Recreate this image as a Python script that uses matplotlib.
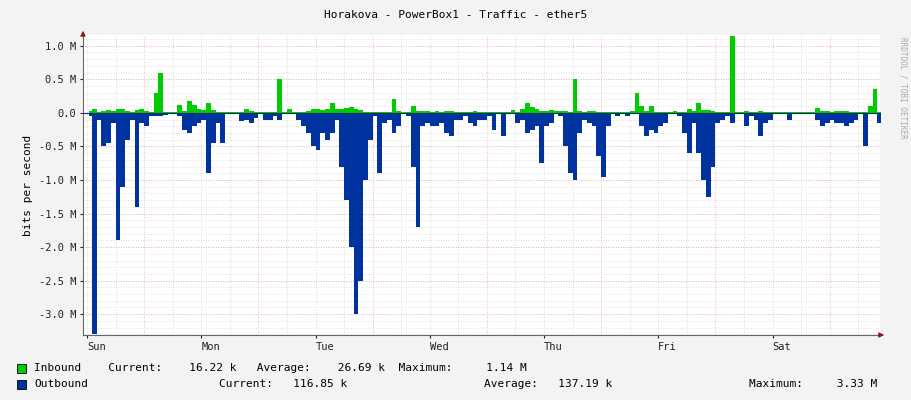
import numpy as np
import matplotlib.pyplot as plt

# hourly values, in M bits/s, Sun 00:00 .. Sat 23:00
inbound = [0.03,0.05,0.02,0.03,0.04,0.03,0.05,0.06,0.03,0.02,0.04,0.05,0.03,0.02,0.3,0.6,0.02,0.01,0.01,0.12,0.03,0.18,0.12,0.05,
           0.04,0.15,0.04,0.02,0.01,0.01,0.01,0.01,0.01,0.06,0.03,0.02,0.01,0.01,0.01,0.02,0.5,0.01,0.05,0.01,0.01,0.02,0.03,0.05,
           0.05,0.04,0.06,0.15,0.06,0.06,0.07,0.08,0.05,0.04,0.02,0.01,0.01,0.02,0.01,0.01,0.2,0.03,0.01,0.01,0.1,0.03,0.03,0.03,
           0.02,0.03,0.02,0.03,0.03,0.01,0.01,0.02,0.01,0.03,0.02,0.01,0.01,0.02,0.02,0.01,0.01,0.04,0.02,0.05,0.15,0.08,0.05,0.03,
           0.03,0.04,0.03,0.03,0.03,0.02,0.5,0.03,0.02,0.03,0.03,0.02,0.01,0.02,0.01,0.01,0.01,0.02,0.03,0.3,0.1,0.03,0.1,0.02,
           0.01,0.01,0.02,0.03,0.02,0.02,0.05,0.03,0.15,0.04,0.04,0.03,0.02,0.02,0.02,1.14,0.01,0.01,0.03,0.02,0.01,0.03,0.02,0.01,
           0.01,0.01,0.01,0.02,0.01,0.01,0.01,0.01,0.01,0.07,0.03,0.03,0.02,0.03,0.03,0.03,0.02,0.02,0.01,0.02,0.1,0.35,0.02,0.01]
outbound = [0.05,3.3,0.1,0.5,0.45,0.15,1.9,1.1,0.4,0.1,1.4,0.15,0.2,0.05,0.05,0.05,0.03,0.02,0.02,0.05,0.25,0.3,0.2,0.15,
            0.1,0.9,0.45,0.15,0.45,0.02,0.02,0.02,0.12,0.1,0.15,0.08,0.02,0.1,0.1,0.05,0.1,0.02,0.0,0.02,0.1,0.2,0.3,0.5,
            0.55,0.3,0.4,0.3,0.1,0.8,1.3,2.0,3.0,2.5,1.0,0.4,0.05,0.9,0.15,0.1,0.3,0.2,0.02,0.05,0.8,1.7,0.2,0.15,
            0.2,0.2,0.15,0.3,0.35,0.1,0.1,0.05,0.15,0.2,0.1,0.1,0.05,0.25,0.02,0.35,0.02,0.02,0.15,0.1,0.3,0.25,0.2,0.75,
            0.2,0.15,0.02,0.05,0.5,0.9,1.0,0.3,0.1,0.15,0.2,0.65,0.95,0.2,0.02,0.05,0.02,0.05,0.02,0.02,0.2,0.35,0.25,0.3,
            0.2,0.15,0.02,0.02,0.05,0.3,0.6,0.15,0.6,1.0,1.25,0.8,0.15,0.1,0.05,0.15,0.02,0.02,0.2,0.05,0.1,0.35,0.15,0.1,
            0.02,0.02,0.02,0.1,0.02,0.02,0.0,0.0,0.02,0.1,0.2,0.15,0.1,0.15,0.15,0.2,0.15,0.1,0.02,0.5,0.02,0.02,0.15,0.0]
days = ["Sun", "Mon", "Tue", "Wed", "Thu", "Fri", "Sat"]
yticks = [1.0, 0.5, 0.0, -0.5, -1.0, -1.5, -2.0, -2.5, -3.0]

plt.rcParams['font.family'] = 'DejaVu Sans Mono'
plt.rcParams['font.size'] = 7.5

t = (np.arange(len(inbound)) + 0.5) / 24.0
inb = np.array(inbound)
outb = -np.array(outbound)

fig = plt.figure(figsize=(9.11, 4.0), dpi=100, facecolor='#f3f3f3')
ax = fig.add_axes([83/911, 65/400, 797/911, 300/400])
ax.set_xlim(-0.035, 6.94)
ax.set_ylim(-3.31, 1.16)

# grid
for v in np.arange(-3.3, 1.16, 0.1):
    ax.axhline(v, color='#d8d8d8', lw=0.6, ls=(0, (1, 2)), zorder=0)
for v in np.arange(-3.0, 1.1, 0.5):
    ax.axhline(v, color='#f0a0a0', lw=0.6, ls=(0, (1, 2)), zorder=0)
for d in np.arange(0, 7, 0.25):
    c = '#f0a0a0' if abs(d % 1 - 0.5) < 1e-6 else '#d0d0d0'
    ax.axvline(d, color=c, lw=0.6, ls=(0, (1, 2)), zorder=0)

ax.fill_between(t, 0, inb, color='#00cc00', lw=0, step='mid', zorder=2)
ax.fill_between(t, 0, outb, color='#0033a0', lw=0, step='mid', zorder=2)
ax.axhline(0, color='#0b2a6a', lw=0.8, zorder=3)

ax.set_xticks(range(7))
ax.set_xticklabels(days, ha='left')
ax.set_yticks(yticks)
ax.set_yticklabels([("%.1f M" % v) if v != 0 else "0.0" for v in yticks])
ax.tick_params(length=2, colors='#222222', pad=3)
for s in ['top', 'right']:
    ax.spines[s].set_visible(False)
ax.spines['left'].set_color('#666666')
ax.spines['bottom'].set_color('#666666')
ax.set_ylabel('bits per second', fontsize=8)

fig.text(0.5, 1 - 15/400, 'Horakova - PowerBox1 - Traffic - ether5', ha='center', va='center', fontsize=8)
fig.text(903/911, 0.78, 'RRDTOOL / TOBI OETIKER', rotation=270, ha='center', va='center', fontsize=5.5, color='#aaaaaa')

# legend
fig.patches.append(plt.Rectangle((17/911, 1 - 373/400), 9/911, 9/400, transform=fig.transFigure,
                                 facecolor='#00cc00', edgecolor='black', lw=0.6))
fig.patches.append(plt.Rectangle((17/911, 1 - 389/400), 9/911, 9/400, transform=fig.transFigure,
                                 facecolor='#0033a0', edgecolor='black', lw=0.6))
fig.text(34/911, 1 - 368/400, 'Inbound    Current:    16.22 k   Average:    26.69 k  Maximum:     1.14 M', va='center', fontsize=8)
fig.text(34/911, 1 - 384/400, 'Outbound', va='center', fontsize=8)
fig.text(219/911, 1 - 384/400, 'Current:   116.85 k', va='center', fontsize=8)
fig.text(484/911, 1 - 384/400, 'Average:   137.19 k', va='center', fontsize=8)
fig.text(749/911, 1 - 384/400, 'Maximum:     3.33 M', va='center', fontsize=8)

# axis arrows
ax.annotate('', xy=(887/911, 65/400), xytext=(876/911, 65/400), xycoords='figure fraction',
            arrowprops=dict(arrowstyle='-|>', color='#8b1a1a', lw=0.8))
ax.annotate('', xy=(83/911, 1 - 28/400), xytext=(83/911, 1 - 38/400), xycoords='figure fraction',
            arrowprops=dict(arrowstyle='-|>', color='#8b1a1a', lw=0.8))

fig.savefig('out.png', dpi=100, facecolor=fig.get_facecolor())
